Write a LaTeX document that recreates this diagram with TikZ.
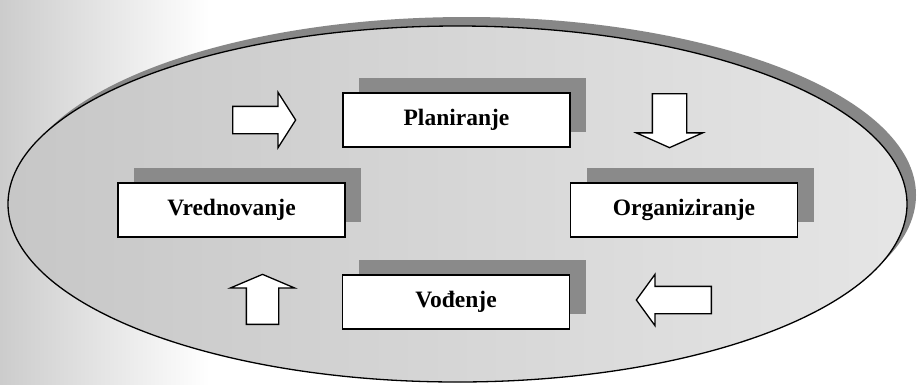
\documentclass[tikz,border=0pt]{standalone}
\usepackage{fontspec}
\setmainfont{Liberation Serif}
\usepackage{tikz}
\usetikzlibrary{shapes,shapes.arrows,shadows}
\definecolor{shadowgray}{RGB}{138,138,138}
\definecolor{ringgray}{RGB}{135,135,135}
\newcommand{\boxw}{227pt}
\newcommand{\boxh}{54pt}

\tikzset{
  stepbox/.style={draw=black, line width=1.4pt, fill=white,
    minimum width=\boxw, minimum height=\boxh, inner sep=0pt,
    font=\fontsize{23.5}{28}\selectfont\bfseries,
    drop shadow={shadow xshift=16pt, shadow yshift=15pt, fill=shadowgray, opacity=1}},
  blockarrow/.style={single arrow, draw=black, line width=1.3pt, fill=white,
    minimum width=0pt, anchor=tail}
}

\begin{document}
\begin{tikzpicture}[x=1pt,y=-1pt]
    \useasboundingbox (0,0) rectangle (918,384);
    % background
    \fill[white] (0,0) rectangle (918,384);
    \shade[left color=black!20, right color=white] (0,0) rectangle (210,384);
    % ring with its shadow
    \fill[ringgray] (466.5,195) ellipse [x radius=449.5, y radius=178];
    \shade[left color=black!22, middle color=black!6, right color=black!10]
        (457.5,204) ellipse [x radius=449.5, y radius=178];
    \draw[line width=1.3pt] (457.5,204) ellipse [x radius=449.5, y radius=178];

    % boxes
    \node[stepbox] (plan) at (456.5,120) {Planiranje};
    \node[stepbox] (org) at (684,210) {Organiziranje};
    \node[stepbox] (vod) at (456,302) {Vođenje};
    \node[stepbox] (vred) at (231.5,210) {Vrednovanje};

    % arrows
    \node[blockarrow, inner sep=13pt, minimum height=63pt,
          single arrow head extend=14pt, single arrow tip angle=115]
          (toplan) at (232,120) {};
    \node[blockarrow, inner sep=16.5pt, minimum height=54pt,
          single arrow head extend=16pt, single arrow tip angle=132,
          shape border rotate=270] (toorg) at (669.5,93) {};
    \node[blockarrow, inner sep=13pt, minimum height=75pt,
          single arrow head extend=12pt, single arrow tip angle=108,
          shape border rotate=180] (tovod) at (712,300) {};
    \node[blockarrow, inner sep=15.5pt, minimum height=50pt,
          single arrow head extend=16pt, single arrow tip angle=134,
          shape border rotate=90] (tovred) at (262.5,325) {};
\end{tikzpicture}
\end{document}
